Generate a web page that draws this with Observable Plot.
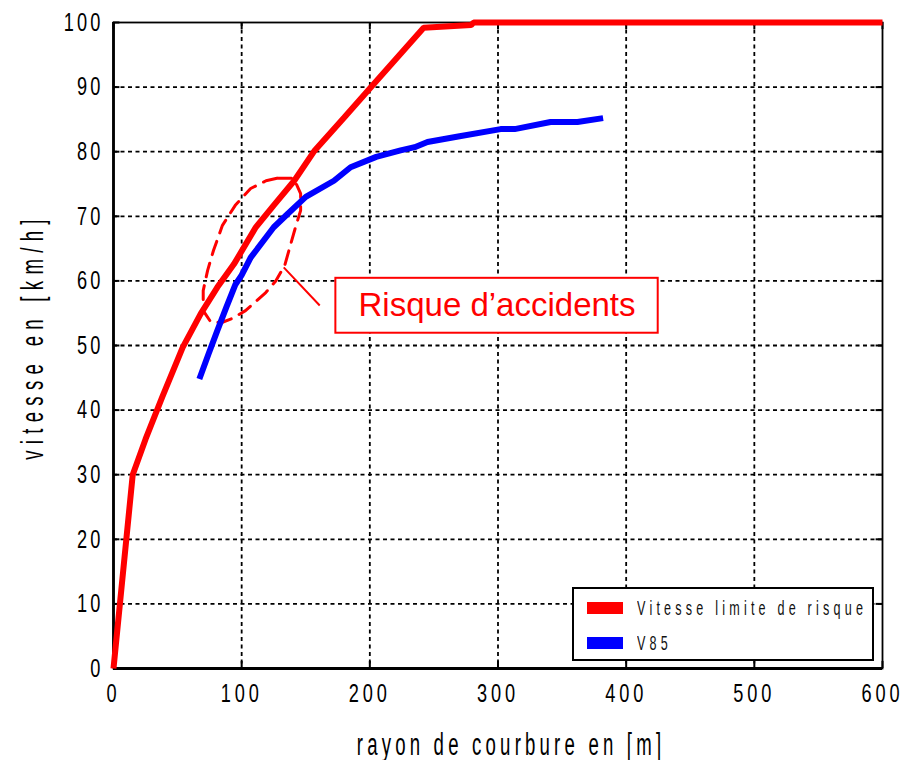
<!DOCTYPE html>
<html><head><meta charset="utf-8">
<script src="https://cdn.jsdelivr.net/npm/d3@7"></script>
<script src="https://cdn.jsdelivr.net/npm/@observablehq/plot@0.6"></script>
<style>
body{margin:0;background:#fff;}
#wrap{position:relative;width:909px;height:760px;background:#fff;}
#legend{position:absolute;left:572px;top:587px;width:298px;height:70px;border:2px solid #000;background:#fff;font-family:"Liberation Sans",Arial,sans-serif;}
.lg-row{position:absolute;left:13px;height:24px;display:flex;align-items:center;white-space:nowrap;}
.sw{width:36px;height:12px;margin-right:14px;flex:none;}
.lg-txt{font-size:21px;letter-spacing:7px;color:#111;transform:scaleX(0.6);transform-origin:left center;display:inline-block;}
</style></head>
<body>
<div id="wrap"></div>
<script>
// ---- data ----
const xTicks = [0, 100, 200, 300, 400, 500, 600];
const yTicks = [0, 10, 20, 30, 40, 50, 60, 70, 80, 90, 100];
const redX = [0, 15, 25, 38, 54, 68, 81, 94, 111, 125, 141, 157, 180, 201, 242, 279, 281, 600];
const redY = [0, 30, 35.5, 42, 49.7, 54.9, 59, 62.6, 68.3, 71.7, 75.5, 80.2, 85.3, 90, 99.2, 99.6, 100, 100];
const blueX = [67, 74, 81, 88, 95, 100, 107, 125, 136, 150, 172, 185, 205, 224, 235, 245, 270, 302, 313, 341, 362, 382];
const blueY = [44.8, 48.6, 52.3, 55.9, 59.4, 60.9, 63.6, 68.3, 70.4, 73, 75.5, 77.6, 79.2, 80.2, 80.7, 81.5, 82.4, 83.5, 83.5, 84.6, 84.6, 85.2];
const zoneX = [128, 140.6, 146, 146, 142, 138, 133.6, 126.6, 118.8, 103, 93, 85, 76, 70, 70, 73.4, 78, 85, 95, 107, 119, 128];
const zoneY = [75.9, 75.9, 73.5, 70.9, 68.3, 65.5, 62.4, 60, 58.2, 55.4, 54.2, 53.6, 53.6, 55.4, 58.5, 61.6, 64.7, 68.6, 71.7, 74.3, 75.5, 75.9];
const seriesNames = ["Vitesse limite de risque", "V85"];
const seriesColors = ["#ff0000", "#0000ff"];
const noteText = "Risque d\u2019accidents";
const xTitle = "rayon de courbure en [m]";
const yTitle = "vitesse en [km/h]";
// annotation box & leader (data coordinates)
const noteBox = {x1: 173.5, x2: 425, y1: 51.9, y2: 60.4};
const leader = {x1: 132.8, y1: 62.1, x2: 160.9, y2: 56.2};

const red = redX.map((x, i) => ({x, y: redY[i]}));
const blue = blueX.map((x, i) => ({x, y: blueY[i]}));
const zone = zoneX.map((x, i) => ({x, y: zoneY[i]}));
const font = '"Liberation Sans",Arial,sans-serif';

const chart = Plot.plot({
  width: 909, height: 760,
  marginLeft: 113, marginTop: 22, marginRight: 27, marginBottom: 92,
  x: {domain: [0, 600]},
  y: {domain: [0, 100]},
  style: {background: "#fff", color: "#000", fontFamily: font},
  marks: [
    // dashed grid
    Plot.ruleX(xTicks.slice(1, -1), {stroke: "#000", strokeWidth: 1.8, strokeDasharray: "4,3.5"}),
    Plot.ruleY(yTicks.slice(1, -1), {stroke: "#000", strokeWidth: 1.8, strokeDasharray: "4,3.5"}),
    // inward ticks
    Plot.ruleX(xTicks, {y1: 0, y2: 1.1, stroke: "#000", strokeWidth: 2}),
    Plot.ruleX(xTicks, {y1: 98.9, y2: 100, stroke: "#000", strokeWidth: 2}),
    Plot.ruleY(yTicks, {x1: 0, x2: 5, stroke: "#000", strokeWidth: 2}),
    Plot.ruleY(yTicks, {x1: 595, x2: 600, stroke: "#000", strokeWidth: 2}),
    // frame
    Plot.frame({stroke: "#000", strokeWidth: 1.8}),
    Plot.ruleY([0], {stroke: "#000", strokeWidth: 2.8}),
    Plot.ruleX([0], {stroke: "#000", strokeWidth: 2.8}),
    // axes labels
    Plot.axisX(xTicks, {tickSize: 0, tickPadding: 15, fontSize: 26, label: null, className: "narrowx"}),
    Plot.axisY(yTicks, {tickSize: 0, tickPadding: 10, fontSize: 26, label: null, className: "narrowy"}),
    // risk zone
    Plot.line(zone, {x: "x", y: "y", stroke: "#ff0000", strokeWidth: 3, strokeDasharray: "14,9"}),
    // annotation
    Plot.link([leader], {x1: "x1", y1: "y1", x2: "x2", y2: "y2", stroke: "#ff0000", strokeWidth: 2}),
    Plot.rect([noteBox], {x1: "x1", x2: "x2", y1: "y1", y2: "y2", fill: "#fff", stroke: "#ff0000", strokeWidth: 2}),
    Plot.text([noteText], {x: (noteBox.x1 + noteBox.x2) / 2, y: (noteBox.y1 + noteBox.y2) / 2, fill: "#ff0000", fontSize: 33}),
    // series
    Plot.line(blue, {x: "x", y: "y", stroke: seriesColors[1], strokeWidth: 6, strokeLinejoin: "miter", strokeLinecap: "butt"}),
    Plot.line(red, {x: "x", y: "y", stroke: seriesColors[0], strokeWidth: 6, strokeLinejoin: "miter", strokeLinecap: "butt"}),
    // titles
    Plot.text([xTitle], {frameAnchor: "bottom", textAnchor: "middle", lineAnchor: "middle", dx: 13, dy: 77, fontSize: 31, fill: "#000", className: "xtitle"}),
    Plot.text([yTitle], {frameAnchor: "left", textAnchor: "middle", lineAnchor: "middle", dx: -80, dy: -9, rotate: -90, fontSize: 31, fill: "#000", className: "ytitle"})
  ]
});
const wrap = document.getElementById("wrap");
wrap.appendChild(chart);

// condensed, letter-spaced look of the original typeface
function condense(sel, sx, ls) {
  d3.select(chart).selectAll(sel).each(function () {
    const x = +this.getAttribute("x") || 0, y = +this.getAttribute("y") || 0;
    const t = this.getAttribute("transform") || "";
    this.setAttribute("transform", `${t} translate(${x},${y}) scale(${sx},1) translate(${-x},${-y})`);
    this.style.letterSpacing = ls + "px";
  });
}
condense(".narrowx text", 0.7, 5.5);
condense(".narrowy text", 0.7, 4.5);
condense(".xtitle text", 0.6, 7);
condense(".ytitle text", 0.6, 10.5);

// legend
const lg = d3.select(wrap).append("div").attr("id", "legend");
seriesNames.forEach((name, i) => {
  const row = lg.append("div").attr("class", "lg-row").style("top", (i === 0 ? 7 : 42) + "px");
  row.append("div").attr("class", "sw").style("background", seriesColors[i]);
  row.append("span").attr("class", "lg-txt").text(name);
});
</script>
</body></html>
